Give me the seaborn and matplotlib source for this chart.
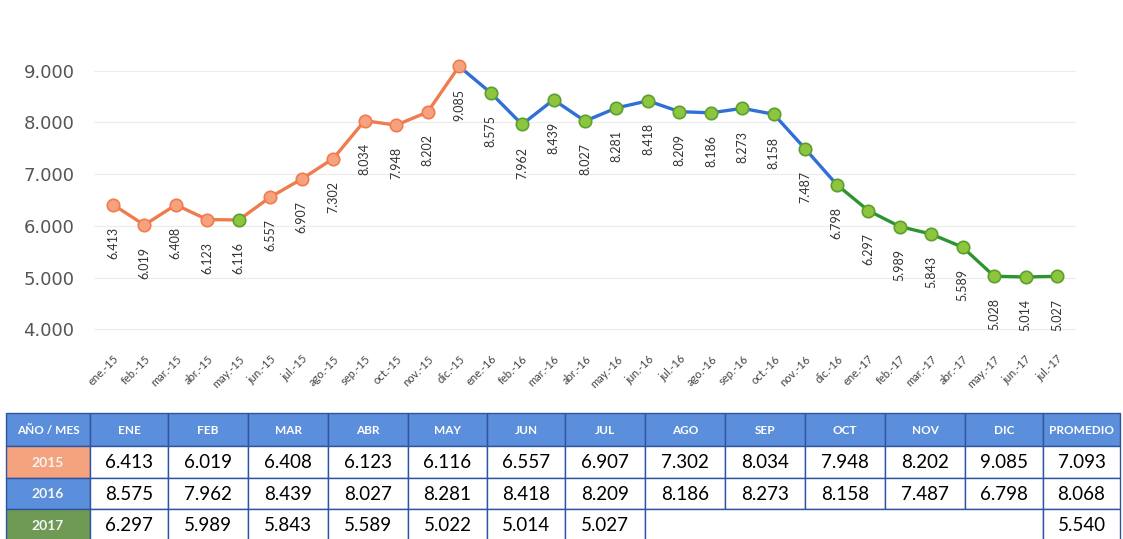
import numpy as np
import pandas as pd
import matplotlib
matplotlib.use("Agg")
import matplotlib.pyplot as plt
from matplotlib.patches import Rectangle
import seaborn as sns

# chart data (values as labelled on the line)
months = ["ene.-15", "feb.-15", "mar.-15", "abr.-15", "may.-15", "jun.-15", "jul.-15",
          "ago.-15", "sep.-15", "oct.-15", "nov.-15", "dic.-15",
          "ene.-16", "feb.-16", "mar.-16", "abr.-16", "may.-16", "jun.-16", "jul.-16",
          "ago.-16", "sep.-16", "oct.-16", "nov.-16", "dic.-16",
          "ene.-17", "feb.-17", "mar.-17", "abr.-17", "may.-17", "jun.-17", "jul.-17"]
values = [6413, 6019, 6408, 6123, 6116, 6557, 6907, 7302, 8034, 7948, 8202, 9085,
          8575, 7962, 8439, 8027, 8281, 8418, 8209, 8186, 8273, 8158, 7487, 6798,
          6297, 5989, 5843, 5589, 5028, 5014, 5027]

# table data
table_cols = ["ENE", "FEB", "MAR", "ABR", "MAY", "JUN", "JUL",
              "AGO", "SEP", "OCT", "NOV", "DIC"]
years = ["2015", "2016", "2017"]
vals_2015 = ["6.413", "6.019", "6.408", "6.123", "6.116", "6.557", "6.907",
             "7.302", "8.034", "7.948", "8.202", "9.085"]
vals_2016 = ["8.575", "7.962", "8.439", "8.027", "8.281", "8.418", "8.209",
             "8.186", "8.273", "8.158", "7.487", "6.798"]
vals_2017 = ["6.297", "5.989", "5.843", "5.589", "5.022", "5.014", "5.027"]
promedio = ["7.093", "8.068", "5.540"]

ORANGE = "#F07C4E"
BLUE = "#2F6FD6"
GREEN = "#2C9430"
sns.set_style("white")
plt.rcParams["font.family"] = ["Lato", "DejaVu Sans"]

df = pd.DataFrame({"pos": np.arange(len(values)), "value": values, "month": months})

fig = plt.figure(figsize=(11.23, 5.39), dpi=100)
ax = fig.add_axes([94 / 1123, 0.36, 982 / 1123, 0.60])

# line segments by year
segments = [(0, 12, ORANGE), (11, 24, BLUE), (23, 31, GREEN)]
for start, end, col in segments:
    sns.lineplot(data=df.iloc[start:end], x="pos", y="value", color=col,
                 linewidth=2.4, ax=ax, zorder=2)

# markers
orange_idx = [i for i in range(12) if i != 4]
green_idx = [4] + list(range(12, len(values)))
sns.scatterplot(data=df.iloc[orange_idx], x="pos", y="value", s=80,
                color="#F6A27F", edgecolor=ORANGE, linewidth=1.2, ax=ax, zorder=3)
sns.scatterplot(data=df.iloc[green_idx], x="pos", y="value", s=80,
                color="#8CC63F", edgecolor="#5E9E2E", linewidth=1.2, ax=ax, zorder=3)

# data labels
for i, v in enumerate(values):
    ax.annotate(f"{v/1000:.3f}", (i, v), xytext=(0, -16), textcoords="offset points",
                rotation=90, ha="center", va="top", fontsize=9, color="#333333")

ax.set_xlim(-0.6, len(values) - 0.4)
ax.set_ylim(3700, 9950)
ax.set_yticks([4000, 5000, 6000, 7000, 8000, 9000])
ax.set_yticklabels([f"{t//1000}.000" for t in [4000, 5000, 6000, 7000, 8000, 9000]],
                   fontsize=13, color="#555555", family="DejaVu Sans")
ax.set_xticks(df["pos"])
ax.set_xticklabels(months, rotation=45, ha="right", rotation_mode="anchor",
                   fontsize=8, color="#444444")
ax.tick_params(axis="both", length=0, pad=6)
ax.tick_params(axis="y", pad=14)
ax.grid(axis="y", color="#ececec", linewidth=0.8)
ax.set_xlabel("")
ax.set_ylabel("")
for s in ax.spines.values():
    s.set_visible(False)

# table below the chart, drawn in pixel coordinates
tab = fig.add_axes([0, 0, 1, 1], zorder=5)
tab.set_xlim(0, 1123)
tab.set_ylim(539, 0)
tab.axis("off")

col_edges = [6, 90, 168, 248, 328, 408, 487, 565, 645, 725, 805, 885, 965, 1043, 1120]
row_edges = [413, 446, 478, 509, 540]
HEAD = "#5B8EDB"
row_colors = ["#F5A27E", "#5B8EDB", "#6E9A55"]
border = "#2F55A0"


def cell(c0, c1, r0, r1, fc, txt="", tc="black", bold=False, fs=13.5):
    tab.add_patch(Rectangle((c0, r0), c1 - c0, r1 - r0, facecolor=fc,
                            edgecolor=border, linewidth=1.0))
    if txt:
        tab.text((c0 + c1) / 2, (r0 + r1) / 2 + 1, txt, ha="center", va="center",
                 color=tc, fontsize=fs, fontweight="bold" if bold else "normal")


headers = ["AÑO / MES"] + table_cols + ["PROMEDIO"]
for j, h in enumerate(headers):
    cell(col_edges[j], col_edges[j + 1], row_edges[0], row_edges[1], HEAD, h,
         tc="white", bold=True, fs=8.5)

rows = [vals_2015, vals_2016, vals_2017]
for r, (yr, rv) in enumerate(zip(years, rows)):
    y0, y1 = row_edges[r + 1], row_edges[r + 2]
    cell(col_edges[0], col_edges[1], y0, y1, row_colors[r], yr, tc="#F4F4F4",
         bold=True, fs=10)
    for j, v in enumerate(rv):
        cell(col_edges[j + 1], col_edges[j + 2], y0, y1, "white", v)
    if len(rv) < 12:
        cell(col_edges[len(rv) + 1], col_edges[13], y0, y1, "white")
    cell(col_edges[13], col_edges[14], y0, y1, "white", promedio[r])

fig.savefig("out.png", dpi=100)
